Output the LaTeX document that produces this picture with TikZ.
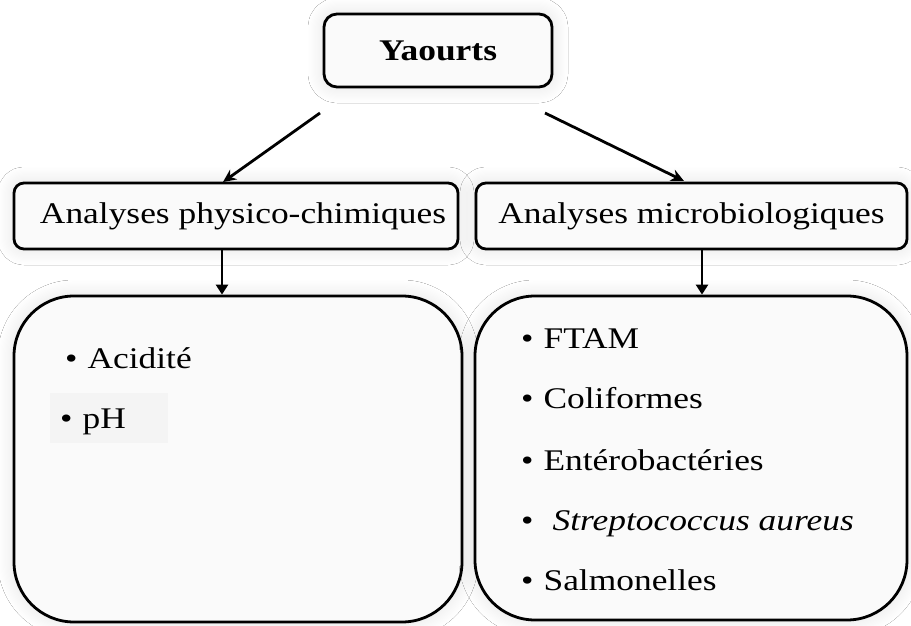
\documentclass[tikz,border=0pt]{standalone}
\usepackage{fontspec}
\setmainfont[FakeStretch=1.18]{Liberation Serif}
\usetikzlibrary{arrows.meta,calc,shadows.blur}

\begin{document}
\begin{tikzpicture}[x=1pt,y=-1pt,
  font=\fontsize{30}{35}\selectfont,
  box/.style={draw=black,line width=2.8pt,fill=gray!4,rounded corners=#1,
    inner sep=0pt,
    blur shadow={shadow xshift=0pt,shadow yshift=0pt,shadow blur radius=16pt,
      shadow blur steps=14,shadow scale=1,shadow opacity=12}},
  arr/.style={line width=2.8pt,-{Stealth[length=13pt,width=12pt]}},
  darr/.style={line width=2.8pt,-{Triangle[length=10pt,width=12pt]}},
  item/.style={anchor=base west,inner sep=0pt}]

% canvas
\fill[white] (0,0) rectangle (911,626);
\useasboundingbox (0,0) rectangle (911,626);

% top node
\node[box=13pt,minimum width=228pt,minimum height=73pt] (yaourts) at (438,50.5)
  {\bfseries Yaourts};

% the two analysis branches
\node[box=10pt,minimum width=444pt,minimum height=66pt] (phys) at (236,216)
  {\hspace*{14pt}Analyses physico-chimiques};
\node[box=10pt,minimum width=431pt,minimum height=66pt] (micro) at (691.5,216)
  {Analyses microbiologiques};

% lists of analyses
\node[box=60pt,minimum width=448pt,minimum height=326pt] (listL) at (238,459) {};
\node[box=60pt,minimum width=432pt,minimum height=324pt] (listR) at (691,458) {};

% light patch behind the pH item
\fill[gray!9] (50,393) rectangle (168,443);

% connectors
\coordinate (startL) at (320,113);
\coordinate (startR) at (545,113);
\coordinate (endL) at (223,182);
\coordinate (endR) at (684,181);
\draw[arr] (startL) -- (endL);
\draw[arr] (startR) -- (endR);
\draw[darr] ([xshift=-14pt]phys.south) -- ([xshift=-16pt]listL.north);
\draw[darr] ([xshift=10.5pt]micro.south) -- ([xshift=11pt]listR.north);

% items, physico-chemical
\node[item] (acid) at (65,368) {\textbullet\hspace{10pt}Acidité};
\node[item] (ph)   at (60,428) {\textbullet\hspace{10pt}pH};

% items, microbiological
\node[item] (ftam)  at (521,348) {\textbullet\hspace{10pt}FTAM};
\node[item] (coli)  at (521,408) {\textbullet\hspace{10pt}Coliformes};
\node[item] (entero) at (521,470) {\textbullet\hspace{10pt}Entérobactéries};
\node[item] (strep) at (521,530) {\textbullet\hspace{19pt}\textit{Streptococcus aureus}};
\node[item] (salmo) at (521,590) {\textbullet\hspace{10pt}Salmonelles};
\end{tikzpicture}
\end{document}
